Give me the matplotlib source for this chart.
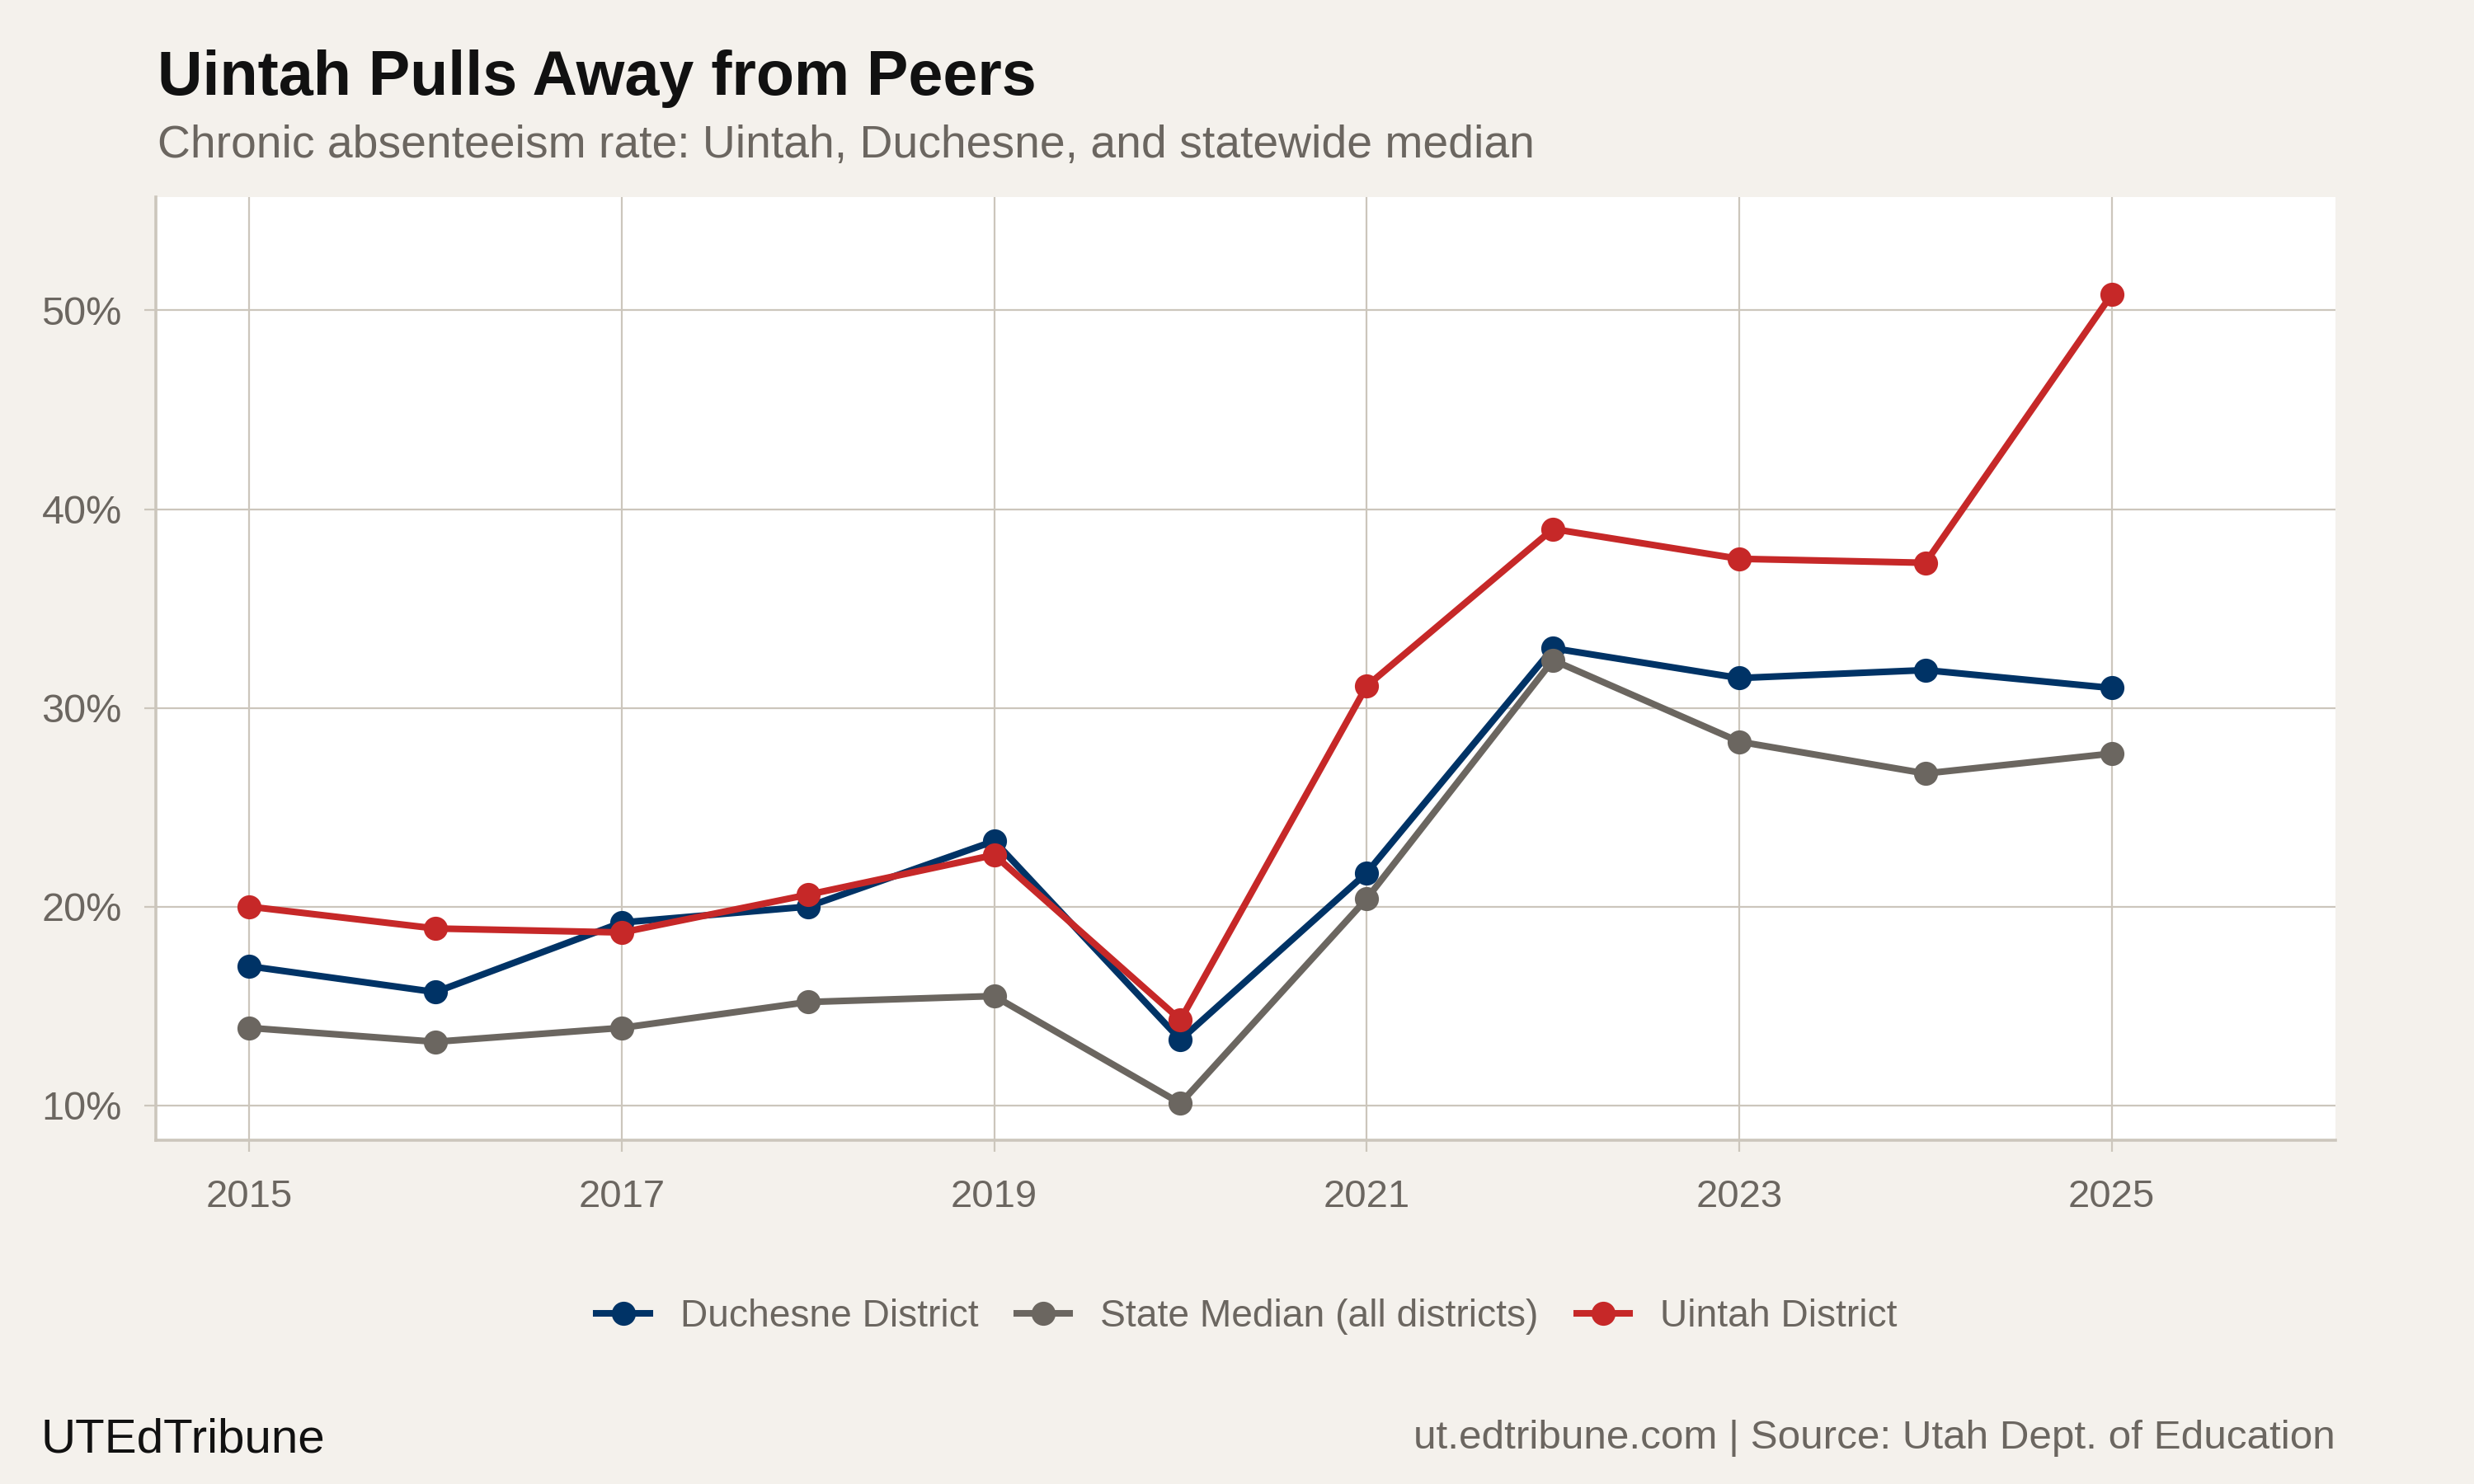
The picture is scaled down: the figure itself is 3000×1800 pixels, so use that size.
import matplotlib.pyplot as plt
from matplotlib.ticker import FuncFormatter

plt.rcParams['font.family'] = ['Liberation Sans', 'DejaVu Sans']

# datos
years = [2015, 2016, 2017, 2018, 2019, 2020, 2021, 2022, 2023, 2024, 2025]
duchesne = [17.0, 15.7, 19.2, 20.0, 23.3, 13.3, 21.7, 33.0, 31.5, 31.9, 31.0]
state_median = [13.9, 13.2, 13.9, 15.2, 15.5, 10.1, 20.4, 32.4, 28.3, 26.7, 27.7]
uintah = [20.0, 18.9, 18.7, 20.6, 22.6, 14.3, 31.1, 39.0, 37.5, 37.3, 50.8]

labels = ['Duchesne District', 'State Median (all districts)', 'Uintah District']
colors = ['#003366', '#6B6660', '#C62828']
x_ticks = [2015, 2017, 2019, 2021, 2023, 2025]
y_ticks = [10, 20, 30, 40, 50]

bg = '#F4F1EC'
grid_c = '#CCC6BC'
txt = '#6B6660'

fig = plt.figure(figsize=(15, 9), dpi=200, facecolor=bg)
ax = fig.add_axes([0.0631, 0.2317, 0.8808, 0.6355])
ax.set_facecolor('white')

for serie, lab, col in zip([duchesne, state_median, uintah], labels, colors):
    ax.plot(years, serie, color=col, lw=2.9, marker='o', ms=9.5,
            label=lab, solid_joinstyle='round', zorder=3)

ax.set_xlim(2014.5, 2026.2)
ax.set_ylim(8.25, 55.7)
ax.set_xticks(x_ticks)
ax.set_yticks(y_ticks)
ax.yaxis.set_major_formatter(FuncFormatter(lambda v, p: f'{v:.0f}%'))
ax.grid(True, color=grid_c, lw=0.8)
ax.set_axisbelow(True)

for s in ['top', 'right']:
    ax.spines[s].set_visible(False)
for s in ['left', 'bottom']:
    ax.spines[s].set_color(grid_c)
    ax.spines[s].set_linewidth(1.3)
ax.tick_params(colors=grid_c, labelcolor=txt, labelsize=17, length=5, width=0.8)
ax.tick_params(axis='x', pad=12)
ax.tick_params(axis='y', pad=10, labelsize=17.5)

leg = fig.legend(loc='center', bbox_to_anchor=(0.504, 0.1127), ncol=3,
                 frameon=False, fontsize=16.6, handlelength=1.4,
                 columnspacing=1.0, handletextpad=0.8)
for t in leg.get_texts():
    t.set_color(txt)

fig.text(0.0638, 0.936, 'Uintah Pulls Away from Peers', fontsize=27.2,
         fontweight='bold', color='#111111', va='baseline')
fig.text(0.0638, 0.8937, 'Chronic absenteeism rate: Uintah, Duchesne, and statewide median',
         fontsize=19.9, color=txt, va='baseline')
fig.text(0.0166, 0.0298, 'UTEdTribune', fontsize=21, color='#111111', va='center')
fig.text(0.9439, 0.0308, 'ut.edtribune.com | Source: Utah Dept. of Education',
         fontsize=17.8, color=txt, va='center', ha='right')

fig.savefig('out.png', dpi=200, facecolor=bg)
